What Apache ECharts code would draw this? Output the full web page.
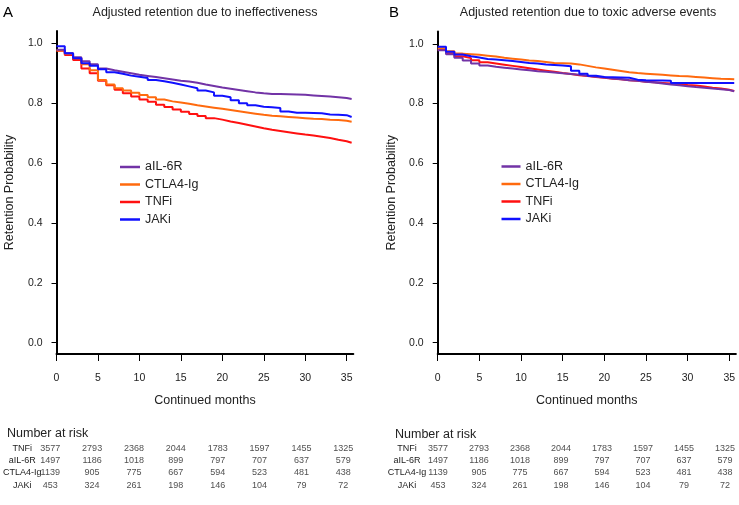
<!DOCTYPE html>
<html><head><meta charset="utf-8">
<script src="https://cdn.jsdelivr.net/npm/echarts@6/dist/echarts.min.js"></script>
<style>html,body{margin:0;padding:0;background:#fff}#c{width:739px;height:505px}</style>
</head><body><div id="c"></div>
<script>
// ---- data ----
const months = [0,1,2,3,4,5,6,7,8,9,10,11,12,13,14,15,16,17,18,19,20,21,22,23,24,25,26,27,28,29,30,31,32,33,34,35];
const endMonth = 35.6;
const groups = ['aIL-6R','CTLA4-Ig','TNFi','JAKi'];
const colors = {'aIL-6R':'#7233A6','CTLA4-Ig':'#FF6A0E','TNFi':'#FF1010','JAKi':'#1010FF'};

// Panel A: ineffectiveness
const A_aIL6R  = [0.978,0.967,0.953,0.940,0.930,0.916,0.910,0.905,0.900,0.895,0.891,0.887,0.883,0.879,0.875,0.872,0.868,0.862,0.857,0.852,0.848,0.844,0.840,0.836,0.833,0.831,0.831,0.830,0.829,0.828,0.826,0.824,0.822,0.820,0.817,0.814];
const A_CTLA4  = [0.976,0.965,0.950,0.930,0.910,0.877,0.862,0.850,0.842,0.835,0.827,0.820,0.812,0.806,0.802,0.798,0.793,0.789,0.785,0.781,0.777,0.773,0.769,0.765,0.761,0.758,0.756,0.754,0.752,0.750,0.748,0.747,0.745,0.744,0.741,0.738];
const A_TNFi   = [0.975,0.961,0.944,0.916,0.900,0.875,0.860,0.845,0.833,0.822,0.812,0.805,0.795,0.787,0.779,0.771,0.764,0.757,0.750,0.745,0.739,0.734,0.728,0.722,0.716,0.711,0.707,0.703,0.699,0.695,0.692,0.688,0.684,0.678,0.673,0.668];
const A_JAKi   = [0.990,0.967,0.950,0.933,0.925,0.913,0.903,0.898,0.892,0.888,0.884,0.877,0.873,0.868,0.862,0.856,0.850,0.842,0.836,0.825,0.820,0.810,0.800,0.793,0.788,0.786,0.784,0.772,0.768,0.768,0.767,0.766,0.762,0.761,0.760,0.754];

// Panel B: toxic adverse events
const B_aIL6R  = [0.978,0.965,0.953,0.944,0.934,0.927,0.923,0.920,0.917,0.914,0.911,0.908,0.906,0.904,0.901,0.899,0.896,0.893,0.890,0.887,0.884,0.881,0.878,0.876,0.873,0.870,0.867,0.864,0.861,0.858,0.855,0.853,0.850,0.848,0.845,0.841];
const B_CTLA4  = [0.985,0.975,0.967,0.965,0.963,0.960,0.957,0.953,0.950,0.947,0.944,0.942,0.939,0.936,0.935,0.934,0.931,0.926,0.921,0.917,0.913,0.909,0.905,0.902,0.900,0.898,0.896,0.894,0.892,0.891,0.889,0.887,0.885,0.883,0.882,0.881];
const B_TNFi   = [0.980,0.968,0.958,0.952,0.945,0.938,0.934,0.930,0.926,0.922,0.918,0.914,0.910,0.906,0.902,0.899,0.895,0.892,0.889,0.886,0.883,0.881,0.878,0.876,0.873,0.871,0.869,0.867,0.865,0.862,0.860,0.857,0.853,0.850,0.846,0.842];
const B_JAKi   = [0.990,0.973,0.964,0.958,0.954,0.949,0.947,0.945,0.942,0.939,0.936,0.934,0.931,0.929,0.927,0.925,0.910,0.900,0.893,0.889,0.888,0.887,0.886,0.880,0.878,0.877,0.877,0.876,0.869,0.869,0.869,0.869,0.869,0.869,0.869,0.869];

// Number at risk
const riskTimes = [0,5,10,15,20,25,30,35];
const riskRows = ['TNFi','aIL-6R','CTLA4-Ig','JAKi'];
const risk_TNFi  = [3577,2793,2368,2044,1783,1597,1455,1325];
const risk_aIL6R = [1497,1186,1018,899,797,707,637,579];
const risk_CTLA4 = [1139,905,775,667,594,523,481,438];
const risk_JAKi  = [453,324,261,198,146,104,79,72];

const xTicks = [0,5,10,15,20,25,30,35];
const yTicks = [0,0.2,0.4,0.6,0.8,1.0];

// ---- build ----
const FF = '"Liberation Sans", Arial, sans-serif';
const TXT = '#222';
function stepData(vals){
  const d = months.map((m,i)=>[m, vals[i]]);
  d.push([endMonth, vals[vals.length-1]]);
  return d;
}
const panels = [
  {grid:{left:56.5, top:31, width:296.8, height:323}, data:{'aIL-6R':A_aIL6R,'CTLA4-Ig':A_CTLA4,'TNFi':A_TNFi,'JAKi':A_JAKi}},
  {grid:{left:437.7, top:31.5, width:298.2, height:322.5}, data:{'aIL-6R':B_aIL6R,'CTLA4-Ig':B_CTLA4,'TNFi':B_TNFi,'JAKi':B_JAKi}}
];
const tableGrids = [
  {left:50, top:442.1, width:293.3, height:49.3, labelMargin:28},
  {left:438, top:442.1, width:287, height:49.3, labelMargin:31}
];
const grids=[], xAxes=[], yAxes=[], series=[];
panels.forEach((p,pi)=>{
  grids.push(p.grid);
  xAxes.push({type:'value', gridIndex:pi, min:0, max:35.8,
    axisLine:{show:true, onZero:false, lineStyle:{color:'#000', width:2}},
    axisTick:{show:true, length:7, customValues:xTicks, lineStyle:{color:'#000', width:1}},
    axisLabel:{customValues:xTicks, fontSize:10.5, color:TXT, margin:19, fontFamily:FF},
    splitLine:{show:false},
    name:'Continued months', nameLocation:'middle', nameGap:40,
    nameTextStyle:{fontSize:12.5, color:TXT, fontFamily:FF}});
  yAxes.push({type:'value', gridIndex:pi, min:-0.0377, max:1.041,
    axisLine:{show:true, onZero:false, lineStyle:{color:'#000', width:2}},
    axisTick:{show:true, length:5, customValues:yTicks, lineStyle:{color:'#000', width:1}},
    axisLabel:{customValues:yTicks, fontSize:10.5, color:TXT, margin:14, fontFamily:FF, formatter:v=>v.toFixed(1)},
    splitLine:{show:false},
    name:'Retention Probability', nameLocation:'middle', nameRotate:90, nameGap:40,
    nameTextStyle:{fontSize:12.5, color:TXT, fontFamily:FF}});
  ['TNFi','CTLA4-Ig','aIL-6R','JAKi'].forEach(g=>{
    series.push({type:'line', name:g, xAxisIndex:pi, yAxisIndex:pi, step:'end', showSymbol:false, symbol:'none',
      data:stepData(p.data[g]), lineStyle:{color:colors[g], width:2}, itemStyle:{color:colors[g]}, z:3, silent:true, animation:false});
  });
});
const riskData = {'TNFi':risk_TNFi,'aIL-6R':risk_aIL6R,'CTLA4-Ig':risk_CTLA4,'JAKi':risk_JAKi};
tableGrids.forEach((tg,ti)=>{
  const gi = grids.length;
  grids.push({left:tg.left, top:tg.top, width:tg.width, height:tg.height});
  xAxes.push({type:'value', gridIndex:gi, min:0, max:35, show:false});
  yAxes.push({type:'category', gridIndex:gi, data:riskRows, inverse:true,
    axisLine:{show:false}, axisTick:{show:false}, splitLine:{show:false},
    axisLabel:{fontSize:9, color:TXT, fontFamily:FF, align:'center', margin:tg.labelMargin}});
  const d=[];
  riskRows.forEach(r=>{ riskTimes.forEach((t,i)=>d.push([t, r, riskData[r][i]])); });
  series.push({type:'scatter', name:'risk'+ti, xAxisIndex:gi, yAxisIndex:gi, symbolSize:1,
    itemStyle:{color:'rgba(0,0,0,0)'}, data:d, silent:true, animation:false,
    label:{show:true, position:'inside', formatter:p=>String(p.value[2]), fontSize:9, color:TXT, fontFamily:FF}});
});
const legendBase = {orient:'vertical', icon:'rect', itemHeight:2.5, data:groups, padding:0,
  textStyle:{fontSize:12.5, color:TXT, fontFamily:FF, lineHeight:14}, itemGap:3.5, selectedMode:false};
const tStyle = (s)=>({fontSize:s, fontWeight:'normal', color:TXT, fontFamily:FF});
const option = {
  backgroundColor:'#fff', animation:false,
  textStyle:{fontFamily:FF},
  title:[
    {text:'A', left:3, top:5, padding:0, textStyle:Object.assign(tStyle(15),{color:'#000'})},
    {text:'B', left:389, top:5, padding:0, textStyle:Object.assign(tStyle(15),{color:'#000'})},
    {text:'Adjusted retention due to ineffectiveness', left:205, top:6, padding:0, textAlign:'center', textStyle:tStyle(12.5)},
    {text:'Adjusted retention due to toxic adverse events', left:588, top:6, padding:0, textAlign:'center', textStyle:tStyle(12.5)},
    {text:'Number at risk', left:7, top:427, padding:0, textStyle:tStyle(12.5)},
    {text:'Number at risk', left:395, top:428, padding:0, textStyle:tStyle(12.5)}
  ],
  legend:[
    Object.assign({}, legendBase, {left:120, top:160, itemWidth:20}),
    Object.assign({}, legendBase, {left:501.5, top:159.5, itemWidth:19})
  ],
  grid:grids, xAxis:xAxes, yAxis:yAxes, series:series
};
const chart = echarts.init(document.getElementById('c'), null, {renderer:'canvas'});
chart.setOption(option);
</script>
</body></html>
